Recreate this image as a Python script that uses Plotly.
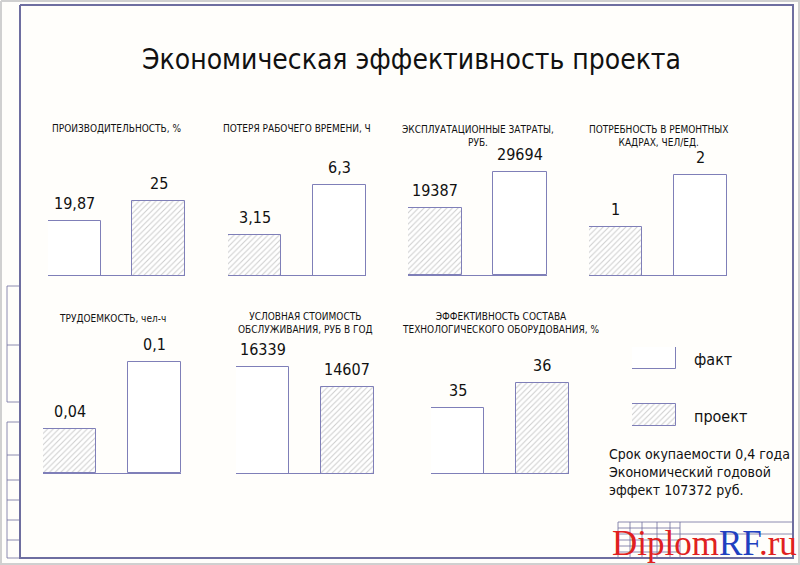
import plotly.graph_objects as go

# chart data
titles = [
    "ПРОИЗВОДИТЕЛЬНОСТЬ, %",
    "ПОТЕРЯ РАБОЧЕГО ВРЕМЕНИ, Ч",
    "ЭКСПЛУАТАЦИОННЫЕ ЗАТРАТЫ,<br>РУБ.",
    "ПОТРЕБНОСТЬ В РЕМОНТНЫХ<br>КАДРАХ, ЧЕЛ/ЕД.",
    "ТРУДОЕМКОСТЬ, чел-ч",
    "УСЛОВНАЯ СТОИМОСТЬ<br>ОБСЛУЖИВАНИЯ, РУБ В ГОД",
    "ЭФФЕКТИВНОСТЬ СОСТАВА<br>ТЕХНОЛОГИЧЕСКОГО ОБОРУДОВАНИЯ, %",
]
fact_values = [19.87, 6.3, 29694, 2, 0.1, 16339, 35]
project_values = [25, 3.15, 19387, 1, 0.04, 14607, 36]
fact_first = [True, False, False, False, False, True, True]
series_names = ["факт", "проект"]
main_title = "Экономическая эффективность проекта"
note_lines = ["Срок окупаемости 0,4 года", "Экономический годовой", "эффект 107372 руб."]

# layout (pixels on the 800x565 sheet)
W, H = 800, 565
boxes = [(48, 185, 275), (228, 366, 275), (408, 547, 275), (589, 727, 275),
         (43, 181, 473), (236, 374, 473), (431, 569, 473)]
title_y = [129, 129, 136, 136, 318, 323, 323]
y_ranges = [[5.94, 39.3], [0.63, 8.82], [0, 37540], [0.077, 2.58],
            [0, 0.117], [7159, 18417], [32.4, 37.6]]
PLOT_H = 130
BAR_W = 0.63

LINE = "#7f7fb8"
FRAME = "#6e6ea0"
HATCH = dict(shape="/", fgcolor="#9a9a9a", bgcolor="white", size=4, solidity=0.25)
FONT = "DejaVu Sans Condensed, DejaVu Sans, sans-serif"


def px(x):
    return x / W


def py(y):
    return 1 - y / H


def fmt(v):
    return f"{v:g}".replace(".", ",")


def text(x, y, s, size, xanchor="center", **kw):
    return dict(x=px(x), y=py(y), xref="paper", yref="paper", text=s, showarrow=False,
                xanchor=xanchor, yanchor="middle",
                font=dict(size=size, color="#111", family=FONT), **kw)


fig = go.Figure()
annotations = []

# drawing-sheet frame, drawn on a full-page pixel axis
def box(x0, y0, x1, y1):
    return [x0, x1, x1, x0, x0, None], [y0, y0, y1, y1, y0, None]


def frame_trace(parts, color, width):
    xs, ys = [], []
    for bx, by in parts:
        xs += bx
        ys += by
    return go.Scatter(x=xs, y=ys, mode="lines", line=dict(color=color, width=width),
                      xaxis="x9", yaxis="y9", showlegend=False, hoverinfo="skip",
                      cliponaxis=False)


fig.add_trace(frame_trace([box(1, 1, 799, 564)], "#d0d0d0", 2))
fig.add_trace(frame_trace([box(20, 5, 793, 558)], FRAME, 2))
thin = [box(7, 286, 20, 402), box(7, 422, 20, 558), box(618, 522, 793, 558)]
thin += [([7, 20, None], [yy, yy, None]) for yy in [345, 455, 480, 500, 520, 540]]
thin += [([xx, xx, None], [522, 558, None]) for xx in [630, 642, 657, 670, 680]]
thin += [([618, 680, None], [yy, yy, None]) for yy in [528, 534, 540, 546, 552]]
thin += [([680, 793, None], [534, 534, None])]
fig.add_trace(frame_trace(thin, FRAME, 0.8))
fig.update_layout(
    xaxis9=dict(domain=[0, 1], range=[0, W], visible=False, anchor="y9", fixedrange=True),
    yaxis9=dict(domain=[0, 1], range=[H, 0], visible=False, anchor="x9", fixedrange=True),
)

for i, (left, right, base) in enumerate(boxes):
    n = "" if i == 0 else str(i + 1)
    if fact_first[i]:
        vals = [fact_values[i], project_values[i]]
        shapes = ["", "/"]
    else:
        vals = [project_values[i], fact_values[i]]
        shapes = ["/", ""]
    fig.add_trace(go.Bar(
        x=[0, 1], y=vals, width=BAR_W, xaxis="x" + n, yaxis="y" + n,
        marker=dict(color="white", line=dict(color=LINE, width=1),
                    pattern=dict(HATCH, shape=shapes)),
        showlegend=False, hoverinfo="skip",
    ))
    fig.update_layout({
        "xaxis" + n: dict(domain=[px(left), px(right)], range=[-BAR_W / 2, 1 + BAR_W / 2],
                          anchor="y" + n, visible=True, showline=True, linecolor=LINE,
                          linewidth=1, showticklabels=False, ticks="", showgrid=False,
                          zeroline=False, fixedrange=True),
        "yaxis" + n: dict(domain=[py(base), py(base - PLOT_H)], range=y_ranges[i],
                          anchor="x" + n, visible=False, fixedrange=True),
    })
    for j, v in enumerate(vals):
        annotations.append(dict(x=j, y=v, xref="x" + n, yref="y" + n, text=fmt(v),
                                showarrow=False, xanchor="center", yanchor="bottom", yshift=6,
                                font=dict(size=16, color="#111", family=FONT)))
    annotations.append(text((left + right) / 2, title_y[i], titles[i], 10))

# legend swatches as a small bar chart
fig.add_trace(go.Bar(
    y=[1, 0], x=[1, 1], orientation="h", width=0.386, xaxis="x8", yaxis="y8",
    marker=dict(color="white", line=dict(color=LINE, width=1),
                pattern=dict(HATCH, shape=["", "/"])),
    showlegend=False, hoverinfo="skip", cliponaxis=False,
))
fig.update_layout(
    xaxis8=dict(domain=[px(632), px(676)], range=[0, 1], visible=False, anchor="y8"),
    yaxis8=dict(domain=[py(426), py(347)], range=[-0.193, 1.193], visible=False, anchor="x8"),
)
for k, name in enumerate(series_names):
    annotations.append(text(692, 359 + 57 * k, name, 16, xanchor="left"))

annotations.append(text(411, 60, main_title, 28))
annotations.append(text(607, 472, "<br>".join(note_lines), 14, xanchor="left", align="left"))
annotations.append(dict(x=px(799), y=py(543), xref="paper", yref="paper",
                        text="Diplom<span style='color:#2040c0'>RF</span>.ru",
                        showarrow=False, xanchor="right", yanchor="middle",
                        font=dict(size=35, color="#e02020", family="Liberation Serif, serif")))

fig.update_layout(
    width=W, height=H, margin=dict(l=0, r=0, t=0, b=0),
    paper_bgcolor="#fffefb", plot_bgcolor="rgba(0,0,0,0)",
    annotations=annotations, bargap=0,
)

fig.write_html("out.html", config={"displayModeBar": False},
               post_script="document.body.style.margin = '0';")
